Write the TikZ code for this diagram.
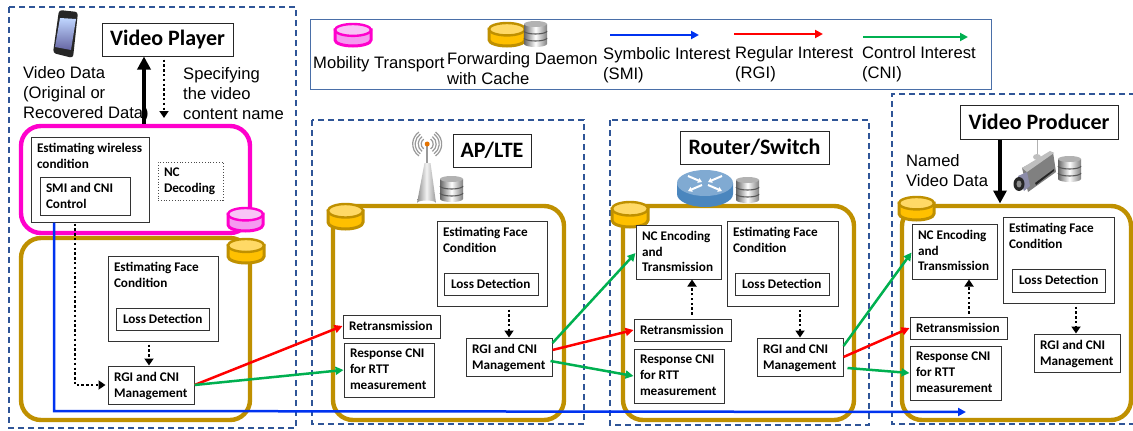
\documentclass[tikz,border=0pt]{standalone}
\usepackage{fontspec}
\setmainfont{Liberation Sans}
\newfontfamily\labfont{Carlito}
\usetikzlibrary{arrows.meta,calc,shapes.geometric}
\definecolor{dashblue}{HTML}{2F5597}
\definecolor{legline}{HTML}{4A6FA8}
\definecolor{goldline}{HTML}{BF9000}
\definecolor{goldfill}{HTML}{FFC000}
\definecolor{goldtop}{HTML}{FFD966}
\definecolor{magline}{HTML}{FF00CC}
\definecolor{magfill}{HTML}{F59AF0}
\definecolor{magtop}{HTML}{F8C4F6}
\definecolor{smiblue}{HTML}{0033F0}
\definecolor{rgired}{HTML}{FF0000}
\definecolor{cnigreen}{HTML}{00B050}
\definecolor{routerblue}{HTML}{4A86BE}
\tikzset{
  dashedframe/.style={draw=dashblue,line width=1.3pt,dash pattern=on 6pt off 4pt},
  container/.style={draw=#1,line width=4.4pt,rounded corners=20pt,inner sep=0pt},
  labelbox/.style={draw=black!80,line width=1pt,inner sep=0pt,fill=white},
  dottedbox/.style={draw=black!70,line width=.8pt,dotted,inner sep=0pt,fill=white},
  titlebox/.style={draw=black!85,line width=1pt,inner sep=0pt,fill=white,font=\labfont\bfseries\fontsize{22}{24}\selectfont},
  plain/.style={inner sep=0pt,anchor=base west,align=left,font=\fontsize{16.6}{20}\selectfont},
  smi/.style={draw=smiblue,line width=2.5pt,-{Triangle[width=8pt,length=8pt]}},
  rgi/.style={draw=rgired,line width=2.5pt,-{Triangle[width=8pt,length=8pt]}},
  cni/.style={draw=cnigreen,line width=2.5pt,-{Triangle[width=8pt,length=8pt]}},
  dotarrow/.style={draw=black,line width=2.5pt,dash pattern=on 2.4pt off 2.4pt,-{Triangle[width=9pt,length=7pt]}},
  bigarrow/.style={draw=black,line width=4pt,-{Triangle[width=13pt,length=13pt]}},
}
% name x1 y1 x2 y2 style text
\newcommand\bx[7]{%
  \pgfmathsetmacro\bw{#4-#2}\pgfmathsetmacro\bh{#5-#3}%
  \pgfmathsetmacro\bxw{\bw-12}\pgfmathsetmacro\bxh{\bh-12}%
  \node[#6] (#1) at ({(#2+#4)/2},{(#3+#5)/2})
    {\parbox[c][\bh pt][c]{\bw pt}{\vspace{0pt}\hspace*{6pt}\parbox[c][\bxh pt][t]{\bxw pt}{\labfont\bfseries\fontsize{13.2}{15.8}\selectfont #7}}};}
\newcommand\tbx[6]{%
  \pgfmathsetmacro\bw{#4-#2}\pgfmathsetmacro\bh{#5-#3}%
  \node[titlebox,minimum width=\bw pt,minimum height=\bh pt] (#1) at ({(#2+#4)/2},{(#3+#5)/2}) {#6};}
\newcommand\cont[6]{%
  \pgfmathsetmacro\bw{#4-#2}\pgfmathsetmacro\bh{#5-#3}%
  \node[container=#6,minimum width=\bw pt,minimum height=\bh pt] (#1) at ({(#2+#4)/2},{(#3+#5)/2}) {};}
% cylinder: x1 y1 x2 y2 line fill top
\newcommand\cyl[7]{%
  \pgfmathsetmacro\cx{(#1+#3)/2}\pgfmathsetmacro\rx{(#3-#1)/2}\pgfmathsetmacro\ry{(#4-#2)*0.27}%
  \draw[line width=3pt,draw=#5,fill=#6] (#1,#2+\ry) -- (#1,#4-\ry)
     arc[x radius=\rx,y radius=-\ry,start angle=180,end angle=360] -- (#3,#2+\ry) -- cycle;
  \draw[line width=2.4pt,draw=#5,fill=#7] (\cx,#2+\ry) ellipse[x radius=\rx,y radius=\ry];}
\newcommand\dbicon[2]{% x y top-left, 23x26
  \begin{scope}[shift={(#1,#2)}]
    \shade[left color=black!60,right color=black!50,middle color=white]
      (0,3) -- (0,23) arc[x radius=11.5,y radius=-3,start angle=180,end angle=360] -- (23,3) -- cycle;
    \fill[black!30] (11.5,3) ellipse[x radius=11.5,y radius=3];
    \draw[black!65,line width=1.1pt] (0,10) arc[x radius=11.5,y radius=-3,start angle=180,end angle=360];
    \draw[black!65,line width=1.1pt] (0,17) arc[x radius=11.5,y radius=-3,start angle=180,end angle=360];
  \end{scope}}
\begin{document}
\begin{tikzpicture}[x=1pt,y=-1pt]
\useasboundingbox (0,0) rectangle (1133,431);
\fill[white] (0,0) rectangle (1133,431);

% dashed frames
\draw[dashedframe] (9,7) rectangle (296,428);
\draw[dashedframe] (312,120) rectangle (584,424);
\draw[dashedframe] (610,120) rectangle (869,425);
\draw[dashedframe] (1145,94) -- (892,94) -- (892,424) -- (1145,424);

% legend
\draw[legline,line width=1pt] (310,19) rectangle (991,89);
\cyl{335}{24}{371}{46}{magline}{magfill}{magtop}
\cyl{489}{23}{525}{46}{goldline}{goldfill}{goldtop}
\dbicon{524}{21}
\node[plain] (legmob) at (313,68) {Mobility Transport};
\node[plain] (legfwd) at (447,84) {Forwarding Daemon\\with Cache};
\coordinate (smia) at (610,35); \coordinate (smib) at (699,35);
\coordinate (rgia) at (734,34); \coordinate (rgib) at (823,34);
\coordinate (cnia) at (863,37); \coordinate (cnib) at (968,37);
\draw[smi] (smia) -- (smib);
\draw[rgi] (rgia) -- (rgib);
\draw[cni] (cnia) -- (cnib);
\node[plain] (legsmi) at (603,79) {Symbolic Interest\\(SMI)};
\node[plain] (legrgi) at (735,78) {Regular Interest\\(RGI)};
\node[plain] (legcni) at (862,78) {Control Interest\\(CNI)};

% ---------- player
\cont{fdA}{21}{238}{250}{420}{goldline}
\cont{mob}{21}{126}{250}{233}{magline}
\cyl{228}{208}{263}{231}{magline}{magfill}{magtop}
\cyl{228}{239}{264}{263}{goldline}{goldfill}{goldtop}
% phone
\fill[black!85,rounded corners=3pt] (59,10) -- (78,12) -- (73,58) -- (53,53) -- cycle;
\shade[top color=cyan!35!blue!25!white,bottom color=blue!40!black!60] (60,18) -- (76,19) -- (71,50) -- (55,47) -- cycle;
\tbx{vp}{102}{23}{233}{56}{Video Player}
\node[plain] (vdata) at (23,118) {Video Data\\(Original or\\Recovered Data)};
\node[plain] (spec) at (183,119) {Specifying\\the video\\content name};
\bx{est}{31}{137}{149}{222}{labelbox}{Estimating wireless\\condition}
\bx{smic}{40}{177}{130}{215}{labelbox}{SMI and CNI\\Control}
\bx{ncd}{158}{162}{223}{200}{dottedbox}{NC\\Decoding}
\bx{efA}{108}{256}{218}{341}{labelbox}{Estimating Face\\Condition}
\bx{ldA}{116}{308}{209}{330}{labelbox}{\hspace*{1pt}Loss Detection}
\bx{rgA}{108}{366}{194}{404}{labelbox}{RGI and CNI\\Management}

% ---------- AP
\cont{fdB}{333}{206}{564}{420}{goldline}
\cyl{328}{204}{363}{229}{goldline}{goldfill}{goldtop}
% tower
\fill[black!40] (426.2,145) rectangle (428.2,166);
\shade[left color=black!45,right color=black!40,middle color=black!5] (424.5,163) -- (430.5,163) -- (436,203) arc[x radius=9.5,y radius=-2.5,start angle=0,end angle=180] -- cycle;
\foreach \r in {6,9,12,14.5}{
  \draw[black!40,line width=1.2pt] (427.2,144) ++(125:\r) arc[radius=\r,start angle=125,end angle=235];
  \draw[black!40,line width=1.2pt] (427.2,144) ++(-55:\r) arc[radius=\r,start angle=-55,end angle=55];
}
\fill[orange!90!black] (427.2,144) circle (2.5pt);
\dbicon{440}{176}
\tbx{ap}{453}{134}{531}{167}{AP/LTE}
\bx{efB}{437}{221}{547}{306}{labelbox}{Estimating Face\\Condition}
\bx{ldB}{444}{273}{538}{295}{labelbox}{\hspace*{1pt}Loss Detection}
\bx{rgB}{466}{338}{552}{376}{labelbox}{RGI and CNI\\Management}
\bx{reB}{343}{315}{440}{338}{labelbox}{Retransmission}
\bx{rsB}{344}{343}{434}{397}{labelbox}{Response CNI\\for RTT\\measurement}

% ---------- router
\cont{fdC}{623}{206}{854}{420}{goldline}
\cyl{612}{202}{648}{227}{goldline}{goldfill}{goldtop}
% router icon
\fill[routerblue] (677,183) -- (677,194) arc[x radius=28,y radius=-13,start angle=180,end angle=360] -- (733,183) -- cycle;
\fill[routerblue!70!white] (705,183) ellipse[x radius=28,y radius=13];
\foreach \a/\b/\c/\d in {688/176/702/182,722/176/708/182,702/185/688/191,708/185/722/191}
  \draw[white,line width=2pt,-{Triangle[width=5pt,length=4pt]}] (\a,\b) -- (\c,\d);
\dbicon{736}{177}
\tbx{rs}{680}{131}{829}{164}{Router/Switch}
\bx{ncC}{636}{225}{721}{279}{labelbox}{NC Encoding\\and\\Transmission}
\bx{efC}{727}{221}{838}{306}{labelbox}{Estimating Face\\Condition}
\bx{ldC}{735}{273}{829}{295}{labelbox}{\hspace*{1pt}Loss Detection}
\bx{rgC}{757}{338}{843}{376}{labelbox}{RGI and CNI\\Management}
\bx{reC}{634}{319}{731}{341}{labelbox}{Retransmission}
\bx{rsC}{634}{349}{724}{403}{labelbox}{Response CNI\\for RTT\\measurement}

% ---------- producer
\cont{fdD}{902}{206}{1131}{420}{goldline}
\cyl{899}{197}{934}{220}{goldline}{goldfill}{goldtop}
% camera
\draw[black!30,line width=.8pt] (1037,139) -- (1037,157);
\fill[black!50] (1022,168) -- (1053,152) -- (1056,172) -- (1028,192) -- cycle;
\fill[black!25] (1022,168) -- (1050,151) -- (1054,153) -- (1027,172) -- cycle;
\fill[black!85,line cap=round] (1035,183) -- (1054,169) -- (1054,171) -- (1036,185) -- cycle;
\fill[black!25] (1037,157) ellipse[x radius=4,y radius=3];
\fill[blue!25!black!45] (1018,176) -- (1027,172) -- (1030,186) -- (1024,191) -- cycle;
\fill[black!85] (1019,184) ellipse[x radius=5.5,y radius=7];
\fill[black!45] (1019,184) ellipse[x radius=2.5,y radius=3.5];
\dbicon{1058}{156}
\tbx{vprod}{960}{105}{1118}{139}{Video Producer}
\node[plain] (nvd) at (906,186) {Named\\Video Data};
\bx{ncD}{912}{224}{997}{279}{labelbox}{NC Encoding\\and\\Transmission}
\bx{efD}{1003}{217}{1114}{303}{labelbox}{Estimating Face\\Condition}
\bx{ldD}{1012}{269}{1105}{292}{labelbox}{\hspace*{1pt}Loss Detection}
\bx{rgD}{1034}{334}{1120}{372}{labelbox}{RGI and CNI\\Management}
\bx{reD}{910}{317}{1007}{339}{labelbox}{Retransmission}
\bx{rsD}{910}{346}{1001}{400}{labelbox}{Response CNI\\for RTT\\measurement}

% ---------- connectors
\draw[bigarrow] ([xshift=8.5pt]mob.north) -- ([xshift=-23.5pt]vp.south);
\coordinate (reqend) at (164,118);
\draw[dotarrow] ([xshift=-3.5pt,yshift=-3pt]vp.south) -- (reqend);
\draw[dotarrow] ([yshift=-3pt,xshift=-14pt]efA.south) -- ([xshift=-2pt]rgA.north);
\draw[dotarrow] ([xshift=-15pt,yshift=-1pt]est.south) |- ([xshift=-2pt]rgA.west);
\draw[dotarrow] ([yshift=-3pt,xshift=17pt]efB.south) -- (rgB.north);
\draw[dotarrow] ([yshift=-3pt,xshift=17.5pt]efC.south) -- (rgC.north);
\draw[dotarrow] ([xshift=9.5pt,yshift=4pt]reC.north) -- ([xshift=13.5pt]ncC.south);
\draw[dotarrow] ([xshift=10.5pt,yshift=3pt]reD.north) -- ([xshift=14.5pt]ncD.south);
\draw[dotarrow] ([yshift=-3pt,xshift=17.5pt]efD.south) -- ([xshift=-1pt]rgD.north);
\draw[bigarrow] ([xshift=-39pt]vprod.south) -- ([xshift=-39pt,yshift=-64pt]vprod.south);

\coordinate (blueend) at (966,412);
\draw[smi] ([xshift=-36pt]est.south) -- (54,411) -- (blueend);
\draw[rgi] (rgA.east) -- ([yshift=.5pt]reB.west);
\draw[cni] (rgA.east) -- (rsB.west);
\draw[cni] ([yshift=14pt]rgB.east) -- ([yshift=-1pt]ncC.west);
\draw[rgi] ([yshift=7pt]rgB.east) -- (reC.west);
\draw[cni] ([yshift=-4pt,xshift=-2pt]rgB.east) -- (rsC.west);
\draw[cni] ([yshift=11pt]rgC.east) -- ([yshift=-1pt]ncD.west);
\draw[rgi] (rgC.east) -- (reD.west);
\draw[cni] ([yshift=-11pt,xshift=4pt]rgC.east) -- (rsD.west);
\end{tikzpicture}
\end{document}
